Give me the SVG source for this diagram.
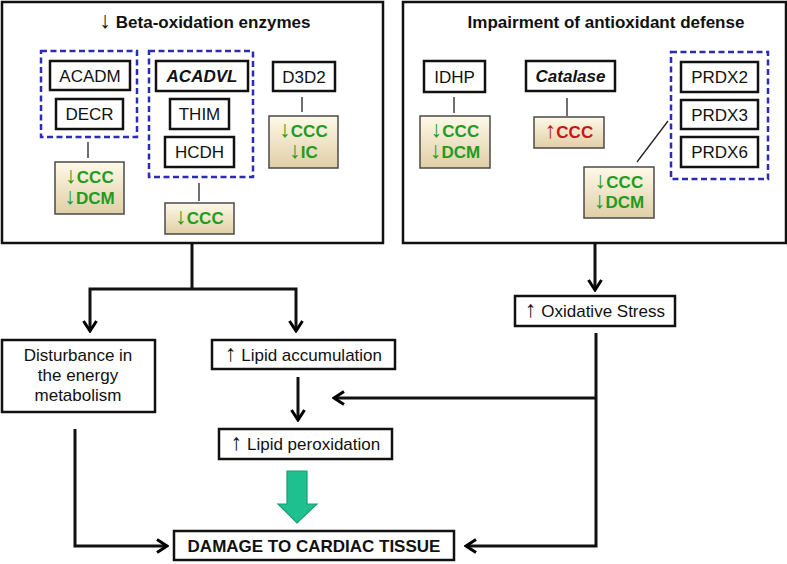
<svg xmlns="http://www.w3.org/2000/svg" width="787" height="564" viewBox="0 0 787 564">
<defs>
<linearGradient id="tan" x1="0" y1="0" x2="0" y2="1">
<stop offset="0" stop-color="#fff9e8"/>
<stop offset="1" stop-color="#e0cfa6"/>
</linearGradient>
<marker id="ah" markerUnits="userSpaceOnUse" markerWidth="16" markerHeight="16" viewBox="-14 -8 16 16" refX="0" refY="0" orient="auto">
<path d="M-10,-6.5 L0,0 L-10,6.5" fill="none" stroke="#000" stroke-width="3"/>
</marker>
</defs>
<style>
text{font-family:"Liberation Sans",Arial,sans-serif;font-size:17px;fill:#111;text-anchor:middle}
.big{fill:#fff;stroke:#111;stroke-width:2.5}
.nb{fill:#fff;stroke:#111;stroke-width:2.5}
.dash{fill:none;stroke:#2b2bb5;stroke-width:2.5;stroke-dasharray:6 3.5}
.res{fill:url(#tan);stroke:#4a4a4a;stroke-width:1.5}
.title{font-weight:bold}
.bi{font-weight:bold;font-style:italic}
.g{font-weight:bold;fill:#1f9b1f}
.r{font-weight:bold;fill:#c8141a}
.ar{font-family:"Liberation Sans",Arial,sans-serif;font-weight:normal;font-size:23px}
.thin{stroke:#222;stroke-width:1.3;fill:none}
.conn{stroke:#111;stroke-width:3;fill:none}
</style>
<rect width="787" height="564" fill="#fff"/>

<g id="beta-box">
<rect class="big" x="2" y="2" width="381" height="241"/>
<text class="title" x="205" y="28"><tspan class="ar">↓</tspan> Beta-oxidation enzymes</text>
</g>
<g id="group-acadm-decr">
<rect class="dash" x="41" y="51" width="96" height="86"/>
</g>
<g id="acadm"><rect class="nb" x="50" y="61" width="80" height="29"/><text x="90" y="82">ACADM</text></g>
<g id="decr"><rect class="nb" x="56" y="99" width="67" height="30"/><text x="89.5" y="120">DECR</text></g>
<g id="res-acadm"><rect class="res" x="55" y="162" width="69" height="52"/><text class="g" x="89.5" y="183"><tspan class="ar">↓</tspan>CCC</text><text class="g" x="89.5" y="204"><tspan class="ar">↓</tspan>DCM</text></g>

<g id="group-acadvl">
<rect class="dash" x="149" y="51" width="104" height="126"/>
</g>
<g id="acadvl"><rect class="nb" x="156" y="61" width="92" height="30"/><text class="bi" x="202" y="82">ACADVL</text></g>
<g id="thim"><rect class="nb" x="170" y="99" width="59" height="30"/><text x="199.5" y="120">THIM</text></g>
<g id="hcdh"><rect class="nb" x="165" y="137" width="69" height="30"/><text x="199.5" y="158">HCDH</text></g>
<g id="res-acadvl"><rect class="res" x="165" y="203" width="69" height="31"/><text class="g" x="199.5" y="224"><tspan class="ar">↓</tspan>CCC</text></g>

<g id="d3d2"><rect class="nb" x="273" y="62" width="62" height="29"/><text x="304" y="83">D3D2</text></g>
<g id="res-d3d2"><rect class="res" x="269" y="116" width="69" height="52"/><text class="g" x="303.5" y="137"><tspan class="ar">↓</tspan>CCC</text><text class="g" x="303.5" y="158"><tspan class="ar">↓</tspan>IC</text></g>

<g id="antiox-box">
<rect class="big" x="403" y="2" width="383" height="241"/>
<text class="title" x="606" y="28">Impairment of antioxidant defense</text>
</g>
<g id="idhp"><rect class="nb" x="424" y="61" width="61" height="31"/><text x="454.5" y="83">IDHP</text></g>
<g id="res-idhp"><rect class="res" x="420" y="116" width="70" height="52"/><text class="g" x="455" y="137"><tspan class="ar">↓</tspan>CCC</text><text class="g" x="455" y="158"><tspan class="ar">↓</tspan>DCM</text></g>
<g id="catalase"><rect class="nb" x="526" y="61" width="89" height="30"/><text class="bi" x="570.5" y="82">Catalase</text></g>
<g id="res-catalase"><rect class="res" x="534" y="117" width="70" height="31"/><text class="r" x="569" y="138"><tspan class="ar">↑</tspan>CCC</text></g>
<g id="group-prdx">
<rect class="dash" x="671" y="52" width="97" height="127"/>
</g>
<g id="prdx2"><rect class="nb" x="681" y="62" width="77" height="30"/><text x="719.5" y="83">PRDX2</text></g>
<g id="prdx3"><rect class="nb" x="681" y="100" width="77" height="29"/><text x="719.5" y="121">PRDX3</text></g>
<g id="prdx6"><rect class="nb" x="681" y="137" width="77" height="30"/><text x="719.5" y="158">PRDX6</text></g>
<g id="res-prdx"><rect class="res" x="584" y="167" width="70" height="51"/><text class="g" x="619" y="188"><tspan class="ar">↓</tspan>CCC</text><text class="g" x="619" y="208"><tspan class="ar">↓</tspan>DCM</text></g>

<g id="disturbance"><rect class="nb" x="2" y="340" width="153" height="72"/>
<text x="78" y="361">Disturbance in</text><text x="78" y="381">the energy</text><text x="78" y="401">metabolism</text></g>
<g id="lipid-acc"><rect class="nb" x="212" y="340" width="183" height="29"/><text x="303.5" y="361"><tspan class="ar">↑</tspan> Lipid accumulation</text></g>
<g id="lipid-perox"><rect class="nb" x="219" y="429" width="173" height="30"/><text x="305.5" y="450"><tspan class="ar">↑</tspan> Lipid peroxidation</text></g>
<g id="ox-stress"><rect class="nb" x="515" y="296" width="160" height="30"/><text x="595" y="317"><tspan class="ar">↑</tspan> Oxidative Stress</text></g>
<g id="damage"><rect class="nb" x="174" y="531" width="280" height="29"/><text class="title" x="314" y="552">DAMAGE TO CARDIAC TISSUE</text></g>

<g id="connectors">
<line class="thin" x1="88" y1="142" x2="88" y2="158"/>
<line class="thin" x1="199" y1="183" x2="199" y2="201"/>
<line class="thin" x1="302" y1="97" x2="302" y2="112"/>
<line class="thin" x1="454" y1="97" x2="454" y2="113"/>
<line class="thin" x1="567" y1="98" x2="567" y2="116"/>
<line class="thin" x1="668" y1="121" x2="637" y2="162"/>
<path class="conn" d="M192,243 V289"/>
<path class="conn" d="M192,289 H90 V331" marker-end="url(#ah)"/>
<path class="conn" d="M192,289 H296 V331" marker-end="url(#ah)"/>
<path class="conn" d="M595,243 V290" marker-end="url(#ah)"/>
<path class="conn" d="M298,377 V420" marker-end="url(#ah)"/>
<path class="conn" d="M596,333 V546 H466" marker-end="url(#ah)"/>
<path class="conn" d="M596,398 H334" marker-end="url(#ah)"/>
<path class="conn" d="M75,429 V546 H167" marker-end="url(#ah)"/>
<path d="M287,471 H307 V504 H317 L297,523 L278,504 H287 Z" fill="#1fc08f" stroke="#169f72" stroke-width="1.2"/>
</g>
</svg>
